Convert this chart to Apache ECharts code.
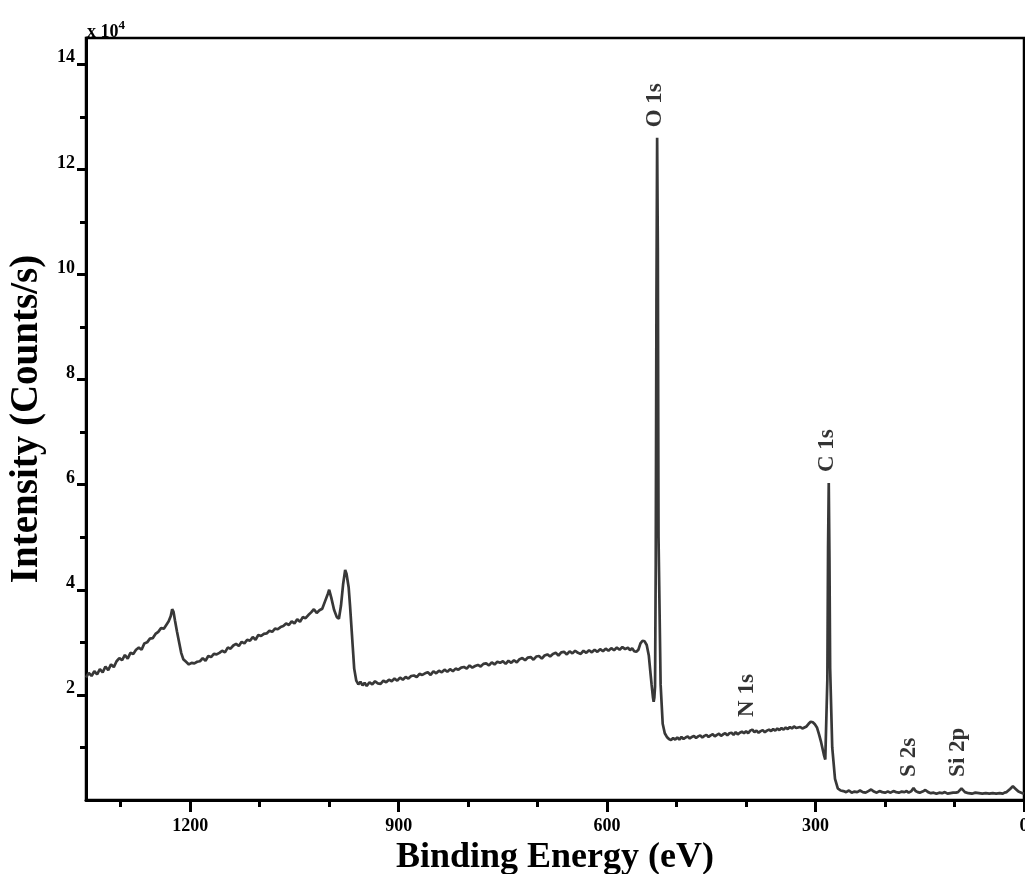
<!DOCTYPE html>
<html>
<head>
<meta charset="utf-8">
<script src="https://cdn.jsdelivr.net/npm/echarts@6/dist/echarts.min.js"></script>
<style>html,body{margin:0;padding:0;background:#fff}#c{width:1025px;height:874px}</style>
</head>
<body>
<div id="c"></div>
<script>
// Binding energy (eV) and intensity (x10^4 counts/s)
const energy = [1350,1346,1342,1338,1334,1330,1326,1322,1318,1314,1310,1306,1302,1298,1294,1290,1286,1282,1278,1274,1270,1266,1262,1258,1254,1250,1246,1242,1238,1234,1231,1228,1226,1224,1222,1219,1216,1213,1210,1206,1202,1198,1194,1190,1186,1182,1178,1174,1170,1166,1162,1158,1154,1150,1146,1142,1138,1134,1130,1126,1122,1118,1114,1110,1106,1102,1098,1094,1090,1086,1082,1078,1074,1070,1066,1062,1058,1054,1050,1046,1042,1038,1034,1030,1026,1022,1018,1014,1010,1006,1002,1000,997,993,989,986,983,980,977,975,972,970,968,966,964,961,958,955,952,949,946,942,938,934,930,926,922,918,914,910,906,902,898,894,890,886,882,878,874,870,866,862,858,854,850,846,842,838,834,830,826,822,818,814,810,806,802,798,794,790,786,782,778,774,770,766,762,758,754,750,746,742,738,734,730,726,722,718,714,710,706,702,698,694,690,686,682,678,674,670,666,662,658,654,650,646,642,638,634,630,626,622,618,614,610,606,602,598,594,590,586,582,578,574,570,567,564,561,558,555,552,549,546,543,540,538,536,534,533,532,531,530,529,528,527,526,523,520,517,514,511,508,505,502,499,496,493,490,487,484,481,478,475,472,469,466,463,460,457,454,451,448,445,442,439,436,433,430,427,424,421,418,415,412,409,406,403,400,397,394,391,388,385,382,379,376,373,370,367,364,361,358,355,352,349,346,343,340,337,334,331,328,325,322,319,316,313,310,307,304,301,298,295,292,290,288,286,284.5,283,282,281,280,279,276,272,268,264,260,256,252,248,244,240,236,232,228,224,220,216,212,208,204,200,196,192,188,184,180,176,172,169,166,162,159,156,153,150,146,142,138,134,130,126,122,118,114,110,106,102,100,98,95,90,85,80,75,70,65,60,55,50,45,40,35,31,28,25,23,20,16,12,8,4,0];
const intensity = [2.33,2.42,2.36,2.45,2.39,2.49,2.43,2.54,2.47,2.58,2.53,2.64,2.70,2.66,2.76,2.69,2.80,2.78,2.86,2.90,2.86,2.98,3.00,3.07,3.08,3.16,3.20,3.27,3.26,3.34,3.40,3.50,3.63,3.58,3.42,3.20,3.00,2.80,2.68,2.63,2.58,2.61,2.60,2.63,2.64,2.70,2.65,2.74,2.72,2.78,2.77,2.80,2.84,2.81,2.90,2.88,2.94,2.97,2.93,3.01,2.98,3.05,3.03,3.10,3.05,3.14,3.12,3.16,3.17,3.22,3.20,3.26,3.25,3.29,3.31,3.36,3.33,3.40,3.36,3.44,3.39,3.48,3.46,3.52,3.57,3.63,3.56,3.61,3.64,3.78,3.92,4.00,3.85,3.62,3.48,3.45,3.70,4.10,4.38,4.30,4.05,3.70,3.30,2.90,2.50,2.27,2.20,2.25,2.18,2.23,2.17,2.24,2.20,2.26,2.22,2.21,2.27,2.24,2.29,2.26,2.31,2.27,2.33,2.29,2.34,2.31,2.36,2.37,2.34,2.40,2.38,2.41,2.43,2.38,2.45,2.41,2.46,2.43,2.48,2.44,2.49,2.45,2.50,2.48,2.52,2.53,2.50,2.56,2.52,2.55,2.57,2.54,2.59,2.60,2.56,2.62,2.58,2.63,2.61,2.64,2.59,2.65,2.61,2.66,2.62,2.68,2.70,2.66,2.71,2.72,2.67,2.73,2.74,2.69,2.75,2.77,2.73,2.78,2.80,2.75,2.81,2.82,2.77,2.83,2.79,2.84,2.80,2.78,2.84,2.80,2.85,2.81,2.86,2.82,2.87,2.83,2.88,2.84,2.89,2.85,2.90,2.86,2.91,2.87,2.90,2.85,2.89,2.83,2.82,2.86,2.98,3.03,3.02,2.95,2.75,2.47,2.20,1.95,1.87,1.95,2.16,4.5,9.5,12.6,10.5,5.0,2.2,1.45,1.27,1.20,1.16,1.14,1.18,1.15,1.19,1.15,1.20,1.16,1.19,1.21,1.17,1.20,1.22,1.18,1.21,1.23,1.19,1.22,1.24,1.20,1.23,1.25,1.21,1.24,1.26,1.22,1.25,1.27,1.23,1.27,1.28,1.24,1.29,1.25,1.28,1.30,1.27,1.31,1.27,1.32,1.34,1.29,1.32,1.28,1.31,1.33,1.29,1.32,1.34,1.31,1.35,1.32,1.36,1.33,1.37,1.34,1.38,1.35,1.39,1.36,1.40,1.37,1.38,1.39,1.36,1.38,1.40,1.45,1.49,1.48,1.44,1.38,1.25,1.10,0.98,0.86,0.77,0.80,2.3,4.8,6.03,4.6,2.5,1.0,0.40,0.22,0.18,0.17,0.15,0.18,0.14,0.16,0.15,0.18,0.15,0.14,0.17,0.20,0.16,0.14,0.17,0.15,0.14,0.16,0.14,0.17,0.15,0.14,0.16,0.15,0.17,0.14,0.17,0.23,0.17,0.15,0.14,0.16,0.19,0.15,0.13,0.14,0.12,0.14,0.13,0.15,0.12,0.13,0.14,0.12,0.14,0.15,0.22,0.15,0.13,0.12,0.14,0.13,0.12,0.13,0.12,0.13,0.12,0.13,0.12,0.14,0.15,0.17,0.21,0.26,0.21,0.16,0.14,0.12,0.09,0.05,0.03];

// Peak annotations
const peakNames = ['O 1s', 'C 1s', 'N 1s', 'S 2s', 'Si 2p'];
const peakEnergy = [530.5, 284, 399, 165, 94.5];
const peakLabelAt = [12.8, 6.24, 1.58, 0.44, 0.44];

// Axis ticks
const xLabelTicks = [0, 300, 600, 900, 1200];
const xMinorTicks = [0, 100, 200, 300, 400, 500, 600, 700, 800, 900, 1000, 1100, 1200, 1300];
const yLabelTicks = [2, 4, 6, 8, 10, 12, 14];
const yMinorTicks = [1, 3, 5, 7, 9, 11, 13];

const FONT = "'Liberation Serif','Times New Roman',serif";
const spectrum = energy.map((e, i) => [e, intensity[i]]);
const peaks = peakNames.map((n, i) => ({ name: n, value: [peakEnergy[i], peakLabelAt[i]] }));

const chart = echarts.init(document.getElementById('c'), null, { renderer: 'canvas' });
const gridBox = { left: 86, right: 1, top: 38, bottom: 74, containLabel: false, outerBoundsMode: 'none' };
const xBase = { type: 'value', min: 0, max: 1350, inverse: true, position: 'bottom' };
const yBase = { type: 'value', min: 0, max: 14.5, position: 'left' };
chart.setOption({
  backgroundColor: '#fff',
  animation: false,
  grid: [
    Object.assign({ show: true, borderColor: '#000', borderWidth: 2.5, backgroundColor: 'transparent' }, gridBox),
    Object.assign({ show: false }, gridBox)
  ],
  graphic: [{
    type: 'text', left: 87, top: 19,
    style: {
      text: '{a|x 10}{s|4}',
      rich: {
        a: { fontFamily: FONT, fontWeight: 'bold', fontSize: 18, fill: '#000', verticalAlign: 'bottom' },
        s: { fontFamily: FONT, fontWeight: 'bold', fontSize: 13, fill: '#000', verticalAlign: 'top', padding: [0, 0, 9, 0] }
      }
    }
  }],
  xAxis: [
    Object.assign({}, xBase, {
      gridIndex: 0,
      name: 'Binding Energy (eV)', nameLocation: 'middle', nameGap: 40,
      nameTextStyle: { fontFamily: FONT, fontWeight: 'bold', fontSize: 36, color: '#000' },
      axisLine: { show: true, onZero: false, lineStyle: { color: '#000', width: 3 } },
      axisTick: { show: true, length: 12, lineStyle: { color: '#000', width: 3 }, customValues: xLabelTicks },
      axisLabel: { show: true, margin: 17, fontFamily: FONT, fontWeight: 'bold', fontSize: 18, color: '#000', customValues: xLabelTicks, formatter: v => String(v) },
      splitLine: { show: false }
    }),
    Object.assign({}, xBase, {
      gridIndex: 1,
      axisLine: { show: false, onZero: false },
      axisTick: { show: true, length: 7, lineStyle: { color: '#000', width: 3 }, customValues: xMinorTicks },
      axisLabel: { show: false },
      splitLine: { show: false }
    })
  ],
  yAxis: [
    Object.assign({}, yBase, {
      gridIndex: 0,
      name: 'Intensity (Counts/s)', nameLocation: 'middle', nameGap: 38,
      nameTextStyle: { fontFamily: FONT, fontWeight: 'bold', fontSize: 39, color: '#000' },
      axisLine: { show: true, onZero: false, lineStyle: { color: '#000', width: 3 } },
      axisTick: { show: true, length: 9, lineStyle: { color: '#000', width: 3 }, customValues: yLabelTicks },
      axisLabel: { show: true, margin: 11, fontFamily: FONT, fontWeight: 'bold', fontSize: 18, color: '#000', verticalAlign: 'bottom', lineHeight: 13, customValues: yLabelTicks, formatter: v => String(v) },
      splitLine: { show: false }
    }),
    Object.assign({}, yBase, {
      gridIndex: 1,
      axisLine: { show: false, onZero: false },
      axisTick: { show: true, length: 6, lineStyle: { color: '#000', width: 3 }, customValues: yMinorTicks },
      axisLabel: { show: false },
      splitLine: { show: false }
    })
  ],
  series: [
    {
      type: 'line', xAxisIndex: 0, yAxisIndex: 0, data: spectrum,
      showSymbol: false, symbol: 'none', smooth: false,
      lineStyle: { color: '#383838', width: 2.7 }
    },
    {
      type: 'scatter', xAxisIndex: 0, yAxisIndex: 0, data: peaks,
      symbolSize: 1, itemStyle: { color: 'rgba(0,0,0,0)' },
      label: {
        show: true, position: 'inside', rotate: 90, align: 'left', verticalAlign: 'middle',
        formatter: p => p.name, textBorderWidth: 0,
        fontFamily: FONT, fontWeight: 'bold', fontSize: 23, color: '#000'
      }
    }
  ]
});
</script>
</body>
</html>
